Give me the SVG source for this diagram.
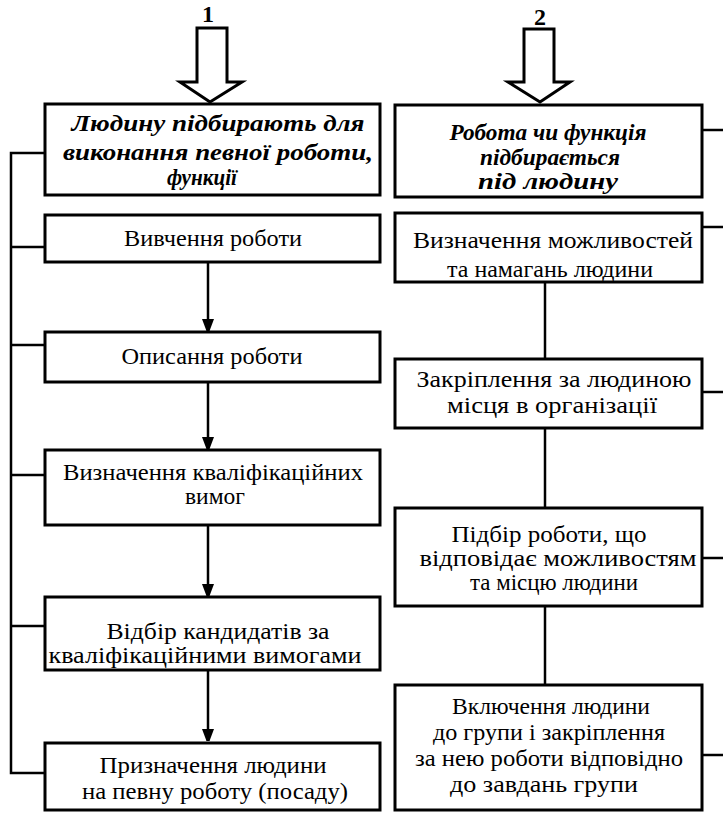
<svg xmlns="http://www.w3.org/2000/svg" width="723" height="813" viewBox="0 0 723 813">
<defs>
<style>
.box{fill:#fff;stroke:#000;stroke-width:3}
.ln{fill:none;stroke:#000;stroke-width:2.5}
.big{fill:#fff;stroke:#000;stroke-width:3;stroke-linejoin:miter}
.tx{font-family:"Liberation Serif","Times New Roman",serif;font-size:24px;fill:#000;text-anchor:middle}
.t{font-family:"Liberation Serif","Times New Roman",serif;font-weight:bold;font-style:italic;font-size:24px;fill:#000;text-anchor:middle}
.n{font-family:"Liberation Serif","Times New Roman",serif;font-weight:bold;font-size:24px;fill:#000;text-anchor:middle}
</style>
<marker id="ah" viewBox="0 0 12 16" refX="12" refY="6" markerWidth="12" markerHeight="16" markerUnits="userSpaceOnUse" orient="auto">
<path d="M0,0 L16,6 L0,12 Z" fill="#000"/>
</marker>
</defs>
<rect width="723" height="813" fill="#fff"/>

<g id="connectors">
<polyline class="ln" points="45,153 11,153 11,773 45,773"/>
<line class="ln" x1="11" y1="247" x2="45" y2="247"/>
<line class="ln" x1="11" y1="345" x2="45" y2="345"/>
<line class="ln" x1="11" y1="475" x2="45" y2="475"/>
<line class="ln" x1="11" y1="626" x2="45" y2="626"/>
<line class="ln" x1="208" y1="262" x2="208" y2="331" marker-end="url(#ah)"/>
<line class="ln" x1="208" y1="382" x2="208" y2="449" marker-end="url(#ah)"/>
<line class="ln" x1="208" y1="525" x2="208" y2="596" marker-end="url(#ah)"/>
<line class="ln" x1="208" y1="670" x2="208" y2="741" marker-end="url(#ah)"/>
<line class="ln" x1="545" y1="282" x2="545" y2="359"/>
<line class="ln" x1="545" y1="428" x2="545" y2="508"/>
<line class="ln" x1="545" y1="606" x2="545" y2="685"/>
<line class="ln" x1="702" y1="130" x2="723" y2="130"/>
<line class="ln" x1="702" y1="227" x2="723" y2="227"/>
<line class="ln" x1="702" y1="392" x2="723" y2="392"/>
<line class="ln" x1="702" y1="558" x2="723" y2="558"/>
<line class="ln" x1="702" y1="755" x2="723" y2="755"/>
</g>

<g id="arrow1">
<text class="n" x="208" y="22">1</text>
<path class="big" d="M197,28 L227,28 L227,82 L242,82 L210,102 L180,82 L197,82 Z"/>
</g>
<g id="arrow2">
<text class="n" x="540" y="25">2</text>
<path class="big" d="M524,29 L554,29 L554,82 L570,82 L540,102 L508,82 L524,82 Z"/>
</g>

<g id="l1">
<rect class="box" x="45" y="104" width="335" height="91"/>
<text class="t" x="218" y="131" textLength="293" lengthAdjust="spacingAndGlyphs">Людину підбирають для</text>
<text class="t" x="218" y="160" textLength="310" lengthAdjust="spacingAndGlyphs">виконання певної роботи,</text>
<text class="t" x="202" y="185" textLength="70" lengthAdjust="spacingAndGlyphs">функції</text>
</g>
<g id="l2">
<rect class="box" x="45" y="215" width="335" height="47"/>
<text class="tx" x="213" y="246" textLength="178" lengthAdjust="spacingAndGlyphs">Вивчення роботи</text>
</g>
<g id="l3">
<rect class="box" x="45" y="332" width="335" height="50"/>
<text class="tx" x="212" y="364" textLength="181" lengthAdjust="spacingAndGlyphs">Описання роботи</text>
</g>
<g id="l4">
<rect class="box" x="45" y="450" width="335" height="75"/>
<text class="tx" x="213" y="480" textLength="300" lengthAdjust="spacingAndGlyphs">Визначення кваліфікаційних</text>
<text class="tx" x="215" y="504" textLength="60" lengthAdjust="spacingAndGlyphs">вимог</text>
</g>
<g id="l5">
<rect class="box" x="45" y="597" width="335" height="73"/>
<text class="tx" x="218" y="639" textLength="223" lengthAdjust="spacingAndGlyphs">Відбір кандидатів за</text>
<text class="tx" x="205" y="663" textLength="313" lengthAdjust="spacingAndGlyphs">кваліфікаційними вимогами</text>
</g>
<g id="l6">
<rect class="box" x="45" y="743" width="335" height="67"/>
<text class="tx" x="213" y="773" textLength="227" lengthAdjust="spacingAndGlyphs">Призначення людини</text>
<text class="tx" x="215" y="799" textLength="266" lengthAdjust="spacingAndGlyphs">на певну роботу (посаду)</text>
</g>

<g id="r1">
<rect class="box" x="395" y="105" width="307" height="92"/>
<text class="t" x="548" y="140" textLength="197" lengthAdjust="spacingAndGlyphs">Робота чи функція</text>
<text class="t" x="550" y="165" textLength="140" lengthAdjust="spacingAndGlyphs">підбирається</text>
<text class="t" x="548" y="189" textLength="140" lengthAdjust="spacingAndGlyphs">під людину</text>
</g>
<g id="r2">
<rect class="box" x="395" y="213" width="307" height="69"/>
<text class="tx" x="553" y="248" textLength="280" lengthAdjust="spacingAndGlyphs">Визначення можливостей</text>
<text class="tx" x="550" y="277" textLength="206" lengthAdjust="spacingAndGlyphs">та намагань людини</text>
</g>
<g id="r3">
<rect class="box" x="395" y="359" width="307" height="69"/>
<text class="tx" x="554" y="387" textLength="275" lengthAdjust="spacingAndGlyphs">Закріплення за людиною</text>
<text class="tx" x="552" y="413" textLength="210" lengthAdjust="spacingAndGlyphs">місця в організації</text>
</g>
<g id="r4">
<rect class="box" x="395" y="508" width="307" height="98"/>
<text class="tx" x="549" y="542" textLength="195" lengthAdjust="spacingAndGlyphs">Підбір роботи, що</text>
<text class="tx" x="558" y="566" textLength="277" lengthAdjust="spacingAndGlyphs">відповідає можливостям</text>
<text class="tx" x="554" y="590" textLength="168" lengthAdjust="spacingAndGlyphs">та місцю людини</text>
</g>
<g id="r5">
<rect class="box" x="395" y="685" width="307" height="125"/>
<text class="tx" x="551" y="714" textLength="198" lengthAdjust="spacingAndGlyphs">Включення людини</text>
<text class="tx" x="549" y="740" textLength="232" lengthAdjust="spacingAndGlyphs">до групи і закріплення</text>
<text class="tx" x="549" y="766" textLength="268" lengthAdjust="spacingAndGlyphs">за нею роботи відповідно</text>
<text class="tx" x="544" y="792" textLength="188" lengthAdjust="spacingAndGlyphs">до завдань групи</text>
</g>
</svg>
